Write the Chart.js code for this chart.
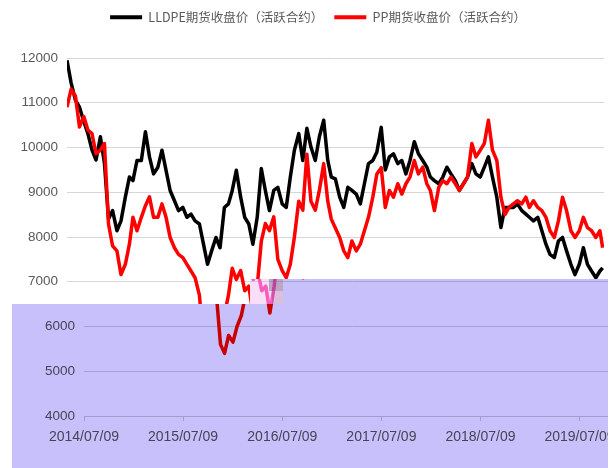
<!DOCTYPE html>
<html>
<head>
<meta charset="utf-8">
<script src="https://cdn.jsdelivr.net/npm/chart.js@4"></script>
<style>
  html, body { margin: 0; padding: 0; background: #ffffff; }
  #wrap { width: 615px; height: 468px; position: relative; }
</style>
</head>
<body>
<div id="wrap"><canvas id="c"></canvas></div>
<script>
const dates = [
'2014/07/09','2014/07/24','2014/08/09','2014/08/24','2014/09/09','2014/09/24','2014/10/09','2014/10/24','2014/11/09','2014/11/24','2014/12/09','2014/12/24',
'2015/01/09','2015/01/24','2015/02/09','2015/02/24','2015/03/09','2015/03/24','2015/04/09','2015/04/24','2015/05/09','2015/05/24','2015/06/09','2015/06/24',
'2015/07/09','2015/07/24','2015/08/09','2015/08/24','2015/09/09','2015/09/24','2015/10/09','2015/10/24','2015/11/09','2015/11/24','2015/12/09','2015/12/24',
'2016/01/09','2016/01/24','2016/02/09','2016/02/24','2016/03/09','2016/03/24','2016/04/09','2016/04/24','2016/05/09','2016/05/24','2016/06/09','2016/06/24',
'2016/07/09','2016/07/24','2016/08/09','2016/08/24','2016/09/09','2016/09/24','2016/10/09','2016/10/24','2016/11/09','2016/11/24','2016/12/09','2016/12/24',
'2017/01/09','2017/01/24','2017/02/09','2017/02/24','2017/03/09','2017/03/24','2017/04/09','2017/04/24','2017/05/09','2017/05/24','2017/06/09','2017/06/24',
'2017/07/09','2017/07/24','2017/08/09','2017/08/24','2017/09/09','2017/09/24','2017/10/09','2017/10/24','2017/11/09','2017/11/24','2017/12/09','2017/12/24',
'2018/01/09','2018/01/24','2018/02/09','2018/02/24','2018/03/09','2018/03/24','2018/04/09','2018/04/24','2018/05/09','2018/05/24','2018/06/09','2018/06/24',
'2018/07/09','2018/07/24','2018/08/09','2018/08/24','2018/09/09','2018/09/24','2018/10/09','2018/10/24','2018/11/09','2018/11/24','2018/12/09','2018/12/24',
'2019/01/09','2019/01/24','2019/02/09','2019/02/24','2019/03/09','2019/03/24','2019/04/09','2019/04/24','2019/05/09','2019/05/24','2019/06/09','2019/06/24',
'2019/07/09','2019/07/24','2019/08/09','2019/08/24','2019/09/09','2019/09/24','2019/10/09','2019/10/24','2019/11/09','2019/11/24','2019/12/04'
];

const lldpe = [
11950,11450,11060,10900,10580,10310,9950,9720,10240,9650,8400,8590,
8140,8360,8890,9340,9260,9710,9710,10350,9790,9410,9560,9940,
9490,9040,8810,8590,8660,8440,8510,8360,8290,7840,7390,7690,
7990,7760,8660,8740,9040,9490,8890,8440,8290,7840,8440,9530,
9040,8590,9040,9110,8740,8660,9340,9940,10310,9710,10430,10010,
9710,10240,10610,9710,9340,9300,8890,8660,9110,9040,8960,8740,
9190,9640,9710,9900,10450,9500,9790,9860,9640,9710,9410,9710,
10130,9860,9710,9560,9340,9260,9190,9340,9560,9410,9260,9040,
9190,9340,9640,9410,9340,9560,9790,9340,8890,8210,8660,8660,
8660,8740,8590,8510,8440,8360,8440,8140,7840,7610,7540,7910,
7990,7690,7390,7160,7390,7760,7390,7240,7090,7240,7310
];

const pp = [
10900,11300,11150,10460,10690,10390,10310,9860,9940,10090,8290,7800,
7690,7160,7390,7840,8440,8140,8440,8700,8900,8440,8440,8740,
8440,7990,7760,7610,7540,7390,7240,7090,6700,5600,5400,5800,
5650,6000,6250,6700,7300,7050,7250,6800,6900,6300,6900,7900,
8300,8140,8450,7500,7250,7090,7390,8000,8800,8600,9850,8800,
8600,9040,9640,8800,8400,8200,7990,7690,7540,7910,7690,7840,
8140,8440,8890,9410,9550,8660,9040,8890,9190,8960,9190,9340,
9710,9410,9560,9190,9040,8590,9110,9260,9190,9340,9190,9040,
9190,9340,10090,9790,9940,10090,10610,9940,9710,8890,8500,8660,
8740,8810,8740,8890,8660,8810,8660,8590,8440,8140,7990,8360,
8890,8590,8140,7990,8140,8440,8210,8140,7990,8140,7760
];

const tickLabels = ['2014/07/09','2015/07/09','2016/07/09','2017/07/09','2018/07/09','2019/07/09'];
const seriesNames = ['LLDPE期货收盘价（活跃合约）', 'PP期货收盘价（活跃合约）'];

function dayOffset(s) {
  const p = s.split('/').map(Number);
  return (Date.UTC(p[0], p[1] - 1, p[2]) - Date.UTC(2014, 6, 9)) / 86400000;
}
const toPoints = vals => dates.map((d, i) => ({ x: dayOffset(d), y: vals[i] }));

const legendFix = {
  id: 'legendFix',
  beforeInit(chart) {
    const orig = chart.legend.fit;
    chart.legend.fit = function () { orig.call(this); this.height = 58; };
  },
  afterLayout(chart) {
    chart.legend.left += 16;
    chart.legend.right += 16;
  }
};

// pasted-over lower strip (shifted copy tinted lavender) seen in the reference picture
const overlay = {
  id: 'overlay',
  afterDraw(chart) {
    const ctx = chart.ctx, cv = chart.canvas;
    const W = cv.width, H = cv.height;
    const off = document.createElement('canvas');
    off.width = W; off.height = H;
    off.getContext('2d').drawImage(cv, 0, 0);
    const shift = 17;
    ctx.save();
    ctx.setTransform(1, 0, 0, 1, 0, 0);
    ctx.beginPath();
    ctx.moveTo(12, 304); ctx.lineTo(283, 304); ctx.lineTo(283, 279);
    ctx.lineTo(608, 279); ctx.lineTo(608, H); ctx.lineTo(12, H); ctx.closePath();
    ctx.clip();
    ctx.fillStyle = '#ffffff'; ctx.fillRect(0, 0, W, H);
    ctx.drawImage(off, shift, 0);
    ctx.globalCompositeOperation = 'multiply';
    ctx.fillStyle = '#c8c0fa'; ctx.fillRect(0, 0, W, H);
    ctx.restore();

    ctx.save();
    ctx.setTransform(1, 0, 0, 1, 0, 0);
    ctx.beginPath(); ctx.rect(250, 279, 33, 25); ctx.clip();
    ctx.fillStyle = '#ffffff'; ctx.fillRect(250, 279, 33, 25);
    ctx.drawImage(off, shift, 0);
    ctx.globalCompositeOperation = 'screen';
    ctx.fillStyle = 'rgb(0,105,195)'; ctx.fillRect(250, 279, 33, 25);
    ctx.globalCompositeOperation = 'multiply';
    ctx.fillStyle = 'rgb(248,222,246)'; ctx.fillRect(250, 279, 33, 25);
    ctx.fillStyle = 'rgb(195,190,205)'; ctx.fillRect(269, 279, 14, 12);
    ctx.fillStyle = 'rgb(225,220,230)'; ctx.fillRect(272, 291, 11, 13);
    ctx.restore();
  }
};

new Chart(document.getElementById('c'), {
  type: 'line',
  data: {
    datasets: [
      { label: seriesNames[0], data: toPoints(lldpe), borderColor: '#000000', backgroundColor: '#000000',
        borderWidth: 3.5, pointRadius: 0, tension: 0, order: 1, borderJoinStyle: 'round' },
      { label: seriesNames[1], data: toPoints(pp), borderColor: '#ff0000', backgroundColor: '#ff0000',
        borderWidth: 3.5, pointRadius: 0, tension: 0, order: 0, borderJoinStyle: 'round' }
    ]
  },
  options: {
    responsive: true,
    maintainAspectRatio: false,
    animation: false,
    layout: { padding: { left: 0, right: 11, top: 0, bottom: 0 } },
    plugins: {
      tooltip: { enabled: false },
      legend: {
        position: 'top',
        labels: {
          boxWidth: 32, boxHeight: 4, padding: 11, color: '#595959',
          font: { family: "'Noto Sans CJK SC', 'Noto Sans'", size: 12.5 },
          sort: (a, b) => a.datasetIndex - b.datasetIndex,
          generateLabels(chart) {
            const items = Chart.defaults.plugins.legend.labels.generateLabels(chart);
            items.forEach(it => { it.lineWidth = 0; it.fillStyle = it.strokeStyle; });
            return items;
          }
        }
      }
    },
    scales: {
      x: {
        type: 'linear',
        min: 0,
        max: 1979,
        afterFit(scale) { scale.height = 52; },
        afterBuildTicks(scale) { scale.ticks = tickLabels.map(t => ({ value: dayOffset(t) })); },
        ticks: {
          autoSkip: false, maxRotation: 0, padding: 8, color: '#595959',
          font: { family: "'Liberation Sans'", size: 14 },
          callback: (v, i) => tickLabels[i]
        },
        grid: { drawOnChartArea: false, drawTicks: true, tickLength: 5, color: '#d0d0d0' },
        border: { display: true, color: '#d0d0d0' }
      },
      y: {
        min: 4000,
        max: 12000,
        afterFit(scale) { scale.width = 67; },
        ticks: {
          stepSize: 1000, padding: 9, color: '#595959',
          font: { family: "'Liberation Sans'", size: 13.5 },
          callback: v => String(v)
        },
        grid: { color: '#d6d6d6', drawTicks: false },
        border: { display: false }
      }
    }
  },
  plugins: [legendFix, overlay]
});
</script>
</body>
</html>
